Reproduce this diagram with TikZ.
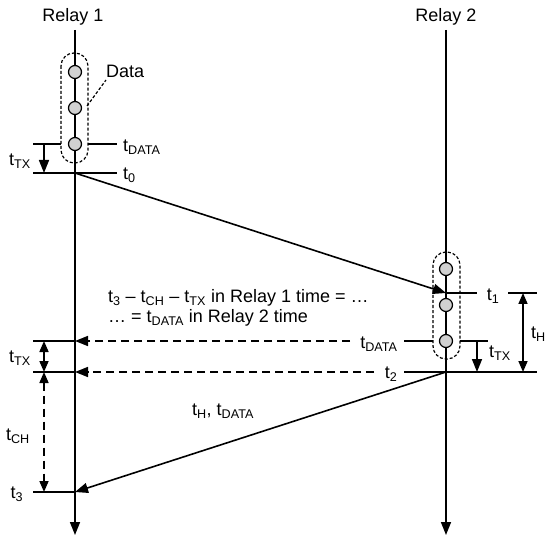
\documentclass[tikz,border=0pt]{standalone}
\usepackage{fontspec}
\setmainfont{Liberation Sans}
\usetikzlibrary{arrows.meta}
\newcommand{\sbs}[1]{\textsubscript{#1}}
\begin{document}
\begin{tikzpicture}[x=1pt,y=-1pt,
  every node/.style={font=\fontsize{18}{20}\selectfont, inner sep=0pt},
  ln/.style={line width=1.6pt},
  arr/.style={line width=1.6pt,-{Triangle[length=13pt,width=10pt]}},
  darr/.style={line width=1.6pt,{Triangle[length=11pt,width=9pt]}-{Triangle[length=11pt,width=9pt]}},
  dsh/.style={dash pattern=on 8pt off 5pt},
  dbox/.style={line width=1.2pt, dash pattern=on 3pt off 2pt, rounded corners=13pt},
  dot/.style={circle, draw, line width=1.2pt, fill=black!18, minimum size=13pt}
]
\useasboundingbox (0,0) rectangle (546,537);
% relay labels and axes
\node (r1) at (73,17) {Relay 1};
\node (r2) at (446,17) {Relay 2};
\coordinate (r1top) at (75,30);
\coordinate (r1bot) at (75,535);
\coordinate (r2top) at (446,30);
\coordinate (r2bot) at (446,535);
\draw[arr] (r1top) -- (r1bot);
\draw[arr] (r2top) -- (r2bot);

% left data box
\draw[dbox, fill=none] (61,53) rectangle (88,163);
\node[dot] (d1) at (75,72) {};
\node[dot] (d2) at (75,108) {};
\node[dot] (d3) at (75,144) {};
\node[anchor=west] (data) at (106,71) {Data};
\coordinate (dl1) at (87,106);
\coordinate (dl2) at (106,80);
\draw[line width=1.2pt, dash pattern=on 3pt off 2pt] (dl1) -- (dl2);

% left tDATA and t0
\coordinate (a1) at (33,144); \coordinate (a2) at (61,144);
\coordinate (a3) at (88,144); \coordinate (a4) at (117,144);
\draw[ln] (a1) -- (a2);
\draw[ln] (a3) -- (a4);
\node[anchor=west] (tdl) at (123,147) {t\sbs{DATA}};
\coordinate (b1) at (33,173); \coordinate (b2) at (117,173);
\draw[ln] (b1) -- (b2);
\node[anchor=west] (t0) at (123,175) {t\sbs{0}};
\coordinate (c1) at (44,144); \coordinate (c2) at (44,173);
\draw[arr] (c1) -- (c2);
\node (ttx1) at (20,161) {t\sbs{TX}};

% main arrow
\coordinate (s0) at (75,173);
\coordinate (s1) at (446,293);
\draw[arr] (s0) -- (s1);

% right data box
\draw[dbox] (433,252) rectangle (460,359);
\node[dot] (e1) at (446,269) {};
\node[dot] (e2) at (446,305) {};
\node[dot] (e3) at (446,341) {};

% t1
\coordinate (f1) at (446,293); \coordinate (f2) at (477,293);
\draw[ln] (f1) -- (f2);
\node (t1) at (493,296) {t\sbs{1}};
\coordinate (f3) at (508,293); \coordinate (f4) at (537,293);
\draw[ln] (f3) -- (f4);
\coordinate (h1) at (523,293); \coordinate (h2) at (523,372);
\draw[darr] (h1) -- (h2);
\node[anchor=west] (tH) at (531,334) {t\sbs{H}};

% right tDATA
\coordinate (g1) at (404,341); \coordinate (g2) at (433,341);
\coordinate (g3) at (460,341); \coordinate (g4) at (488,341);
\draw[ln] (g1) -- (g2);
\draw[ln] (g3) -- (g4);
\node (tdr) at (379,344) {t\sbs{DATA}};
\coordinate (k1) at (477,341); \coordinate (k2) at (477,372);
\draw[arr] (k1) -- (k2);
\node[anchor=west] (ttx2) at (489,353) {t\sbs{TX}};

% t2
\coordinate (m1) at (404,372); \coordinate (m2) at (537,372);
\draw[ln] (m1) -- (m2);
\node (t2) at (391,374) {t\sbs{2}};

% dashed arrows
\coordinate (n1) at (350,341); \coordinate (n2) at (75,341);
\draw[arr, dsh] (n1) -- (n2);
\coordinate (p1) at (374,372); \coordinate (p2) at (75,372);
\draw[arr, dsh] (p1) -- (p2);

% left lines
\coordinate (q1) at (33,341);
\draw[ln] (q1) -- (n2);
\coordinate (q2) at (33,372);
\draw[ln] (q2) -- (p2);
\coordinate (u1) at (44,341); \coordinate (u2) at (44,372);
\draw[darr] (u1) -- (u2);
\node (ttx3) at (20,358) {t\sbs{TX}};
\coordinate (u3) at (44,492);
\draw[darr, dsh] (u2) -- (u3);
\node (tCH) at (18,436) {t\sbs{CH}};
\coordinate (q3) at (33,492); \coordinate (q4) at (75,492);
\draw[ln] (q3) -- (q4);
\node (t3) at (17,494) {t\sbs{3}};

% return arrow
\coordinate (w1) at (446,372);
\draw[arr] (w1) -- (q4);
\node (thd) at (223,411) {t\sbs{H}, t\sbs{DATA}};

% text block
\node[anchor=west, align=left] (txt) at (108,308) {t\sbs{3} – t\sbs{CH} – t\sbs{TX} in Relay 1 time = …\\… = t\sbs{DATA} in Relay 2 time};
\end{tikzpicture}
\end{document}
